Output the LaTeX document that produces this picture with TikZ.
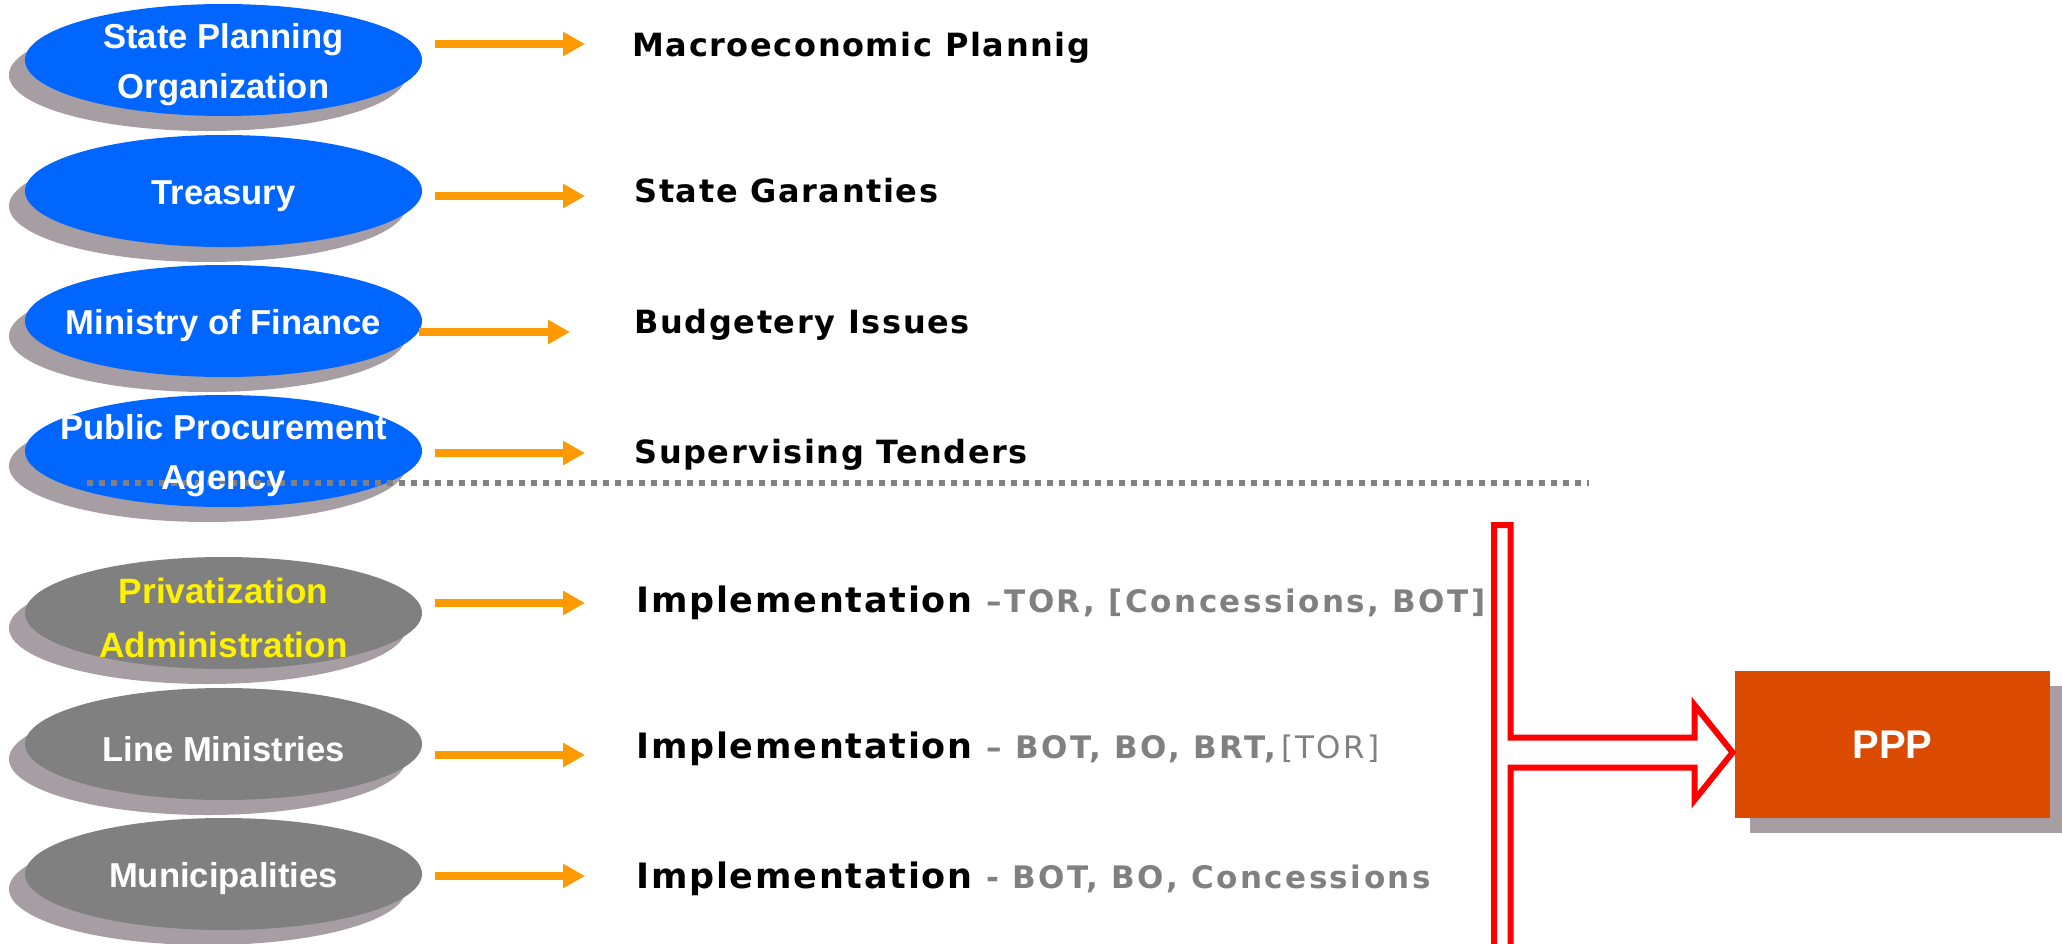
\documentclass[tikz,border=0pt]{standalone}
\usepackage{fontspec}
\setmainfont{Liberation Sans}
\newfontfamily\rowfont[LetterSpace=5]{DejaVu Sans}
\newfontfamily\modefont[LetterSpace=8]{DejaVu Sans}
\usetikzlibrary{shapes.geometric,arrows.meta}

\definecolor{orgblue}{RGB}{0,102,255}
\definecolor{orggray}{RGB}{128,128,128}
\definecolor{shadowgray}{RGB}{166,158,162}
\definecolor{floworange}{RGB}{255,153,0}
\definecolor{pppfill}{RGB}{218,74,0}

\tikzset{
  org/.style={ellipse, minimum width=198.5pt, minimum height=56pt, inner sep=0pt},
  orglabel/.style={align=center, inner sep=0pt, font=\bfseries\fontsize{17.3}{25}\selectfont},
  flow/.style={draw=floworange, line width=4pt, -{Triangle[length=11pt,width=11.5pt]}},
  task/.style={anchor=base west, inner sep=0pt, font=\rowfont\bfseries\fontsize{16}{19}\selectfont},
  impl/.style={task, font=\rowfont\bfseries\fontsize{17.5}{21}\selectfont},
  fork/.style={draw=red, line width=3pt, line join=miter},
}

% name / centre y / fill
\newcommand\orglist{spo/60/orgblue, tre/191/orgblue, mof/321/orgblue, ppa/451/orgblue,
  pra/613/orggray, lmi/744/orggray, mun/874/orggray}

\newcommand\modes[1]{{\modefont\color{orggray}\fontsize{15.5}{18}\selectfont #1}}

\begin{document}
\begin{tikzpicture}[x=0.5pt, y=-0.5pt]
  \useasboundingbox (0,0) rectangle (2062,943);

  % ellipses with their shadows
  \foreach \n/\y/\fillc in \orglist {
    \node[org, fill=shadowgray] (\n-sh) at (207.5,\y+15) {};
    \node[org, fill=\fillc] (\n) at (223.5,\y) {};
  }

  % separator
  \coordinate (sep-l) at (87,483);
  \coordinate (sep-r) at (1589,483);
  \draw[orggray, line width=3pt, dash pattern=on 3pt off 3pt] (sep-l) -- (sep-r);

  % ellipse labels
  \node[orglabel, text=white] (spo-t) at ([yshift=-2.5pt]spo) {State Planning\\Organization};
  \node[orglabel, text=white] (tre-t) at ([yshift=-2.5pt]tre) {Treasury};
  \node[orglabel, text=white] (mof-t) at ([yshift=-2.5pt]mof) {Ministry of Finance};
  \node[orglabel, text=white] (ppa-t) at ([yshift=-2.5pt]ppa) {Public Procurement\\Agency};
  \node[orglabel, text=yellow, font=\bfseries\fontsize{17.6}{27}\selectfont] (pra-t) at ([yshift=-2.5pt]pra) {Privatization\\Administration};
  \node[orglabel, text=white] (lmi-t) at ([yshift=-2.5pt]lmi) {Line Ministries};
  \node[orglabel, text=white] (mun-t) at ([yshift=-2.5pt]mun) {Municipalities};

  % tasks
  \node[task] (mac) at (632,56) {Macroeconomic Plannig};
  \node[task] (gar) at (634,202) {State Garanties};
  \node[task] (bud) at (634,333) {Budgetery Issues};
  \node[task] (sup) at (634,463) {Supervising Tenders};
  \node[impl] (imp1) at (636,612) {Implementation \modes{–TOR, [Concessions, BOT]}};
  \node[impl] (imp2) at (636,758) {Implementation \modes{– BOT, BO, BRT,{\mdseries\,[TOR]}}};
  \node[impl] (imp3) at (636,888) {Implementation \modes{- BOT, BO, Concessions}};

  \coordinate (r1) at (0,44);
  \coordinate (r2) at (0,196);
  \coordinate (r3) at (0,332);
  \coordinate (r4) at (0,453);
  \coordinate (r5) at (0,603);
  \coordinate (r6) at (0,755);
  \coordinate (r7) at (0,876);
  \draw[flow, shorten <=6.5pt, shorten >=23.5pt] (spo.east |- r1) -- (mac.west |- r1);
  \draw[flow, shorten <=6.5pt, shorten >=24.5pt] (tre.east |- r2) -- (gar.west |- r2);
  \draw[flow, shorten <=-1.5pt, shorten >=32pt] (mof.east |- r3) -- (bud.west |- r3);
  \draw[flow, shorten <=6.5pt, shorten >=24.5pt] (ppa.east |- r4) -- (sup.west |- r4);
  \draw[flow, shorten <=6.5pt, shorten >=25.5pt] (pra.east |- r5) -- (imp1.west |- r5);
  \draw[flow, shorten <=6.5pt, shorten >=25.5pt] (lmi.east |- r6) -- (imp2.west |- r6);
  \draw[flow, shorten <=6.5pt, shorten >=25.5pt] (mun.east |- r7) -- (imp3.west |- r7);

  % PPP box
  \node[fill=shadowgray, minimum width=157.5pt, minimum height=73.5pt, inner sep=0pt] (ppp-sh) at (1907.5,759.5) {};
  \node[fill=pppfill, minimum width=157.5pt, minimum height=73.5pt, inner sep=0pt,
        text=white, font=\bfseries\fontsize{20}{24}\selectfont] (ppp) at (1892.5,744.5) {PPP};

  % fork into PPP
  \coordinate (tip) at ([xshift=-1pt, yshift=-4pt]ppp.west);
  \coordinate (bar-top) at (1494,525);
  \coordinate (bar-end) at (1494,950);
  \draw[fork] (bar-end) -- (bar-top) -- ++(16.5,0) |- (1694.5,737.5) -- ++(0,-32.5)
    -- (tip) -- (1694.5,800) -- ++(0,-32.5) -| (1510.5,950);
\end{tikzpicture}
\end{document}
